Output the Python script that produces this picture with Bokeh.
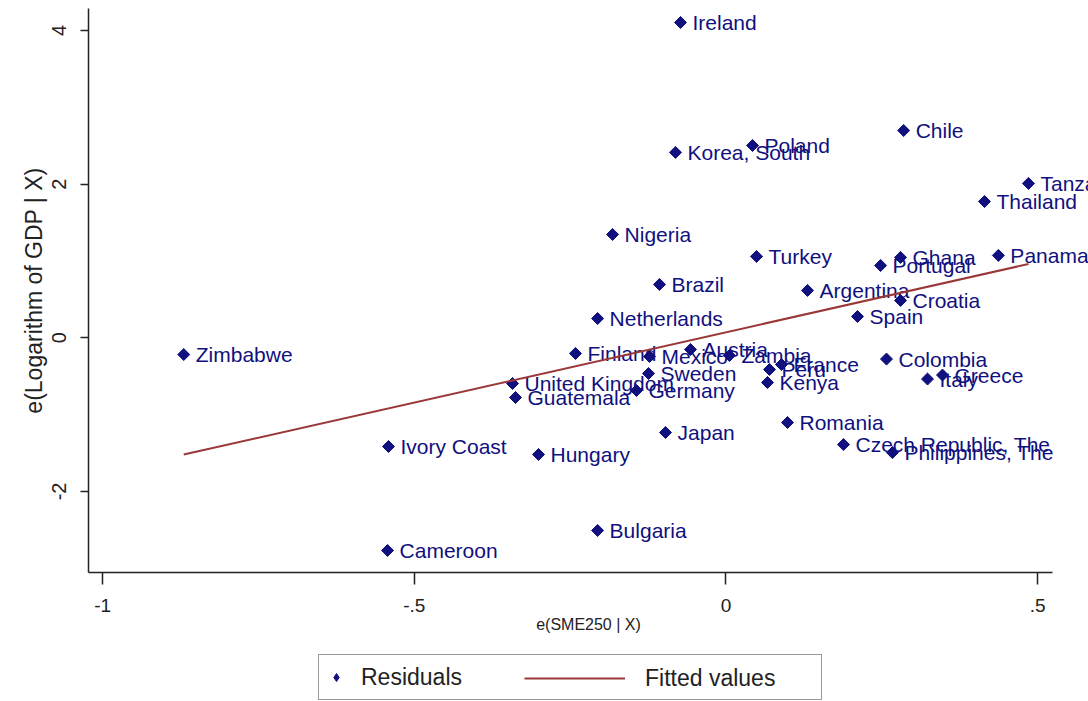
from bokeh.plotting import figure
from bokeh.layouts import column
from bokeh.models import Range1d, Legend, LegendItem, ColumnDataSource, FixedTicker
from bokeh.core.properties import value
from bokeh.embed import file_html
from bokeh.resources import INLINE

# ---- data ----
countries = [
    "Ireland", "Chile", "Poland", "Korea, South", "Tanzania", "Thailand",
    "Nigeria", "Turkey", "Ghana", "Panama", "Portugal", "Brazil",
    "Argentina", "Croatia", "Netherlands", "Spain", "Zimbabwe", "Finland",
    "Mexico", "Austria", "Zambia", "Peru", "France", "Kenya", "Sweden",
    "United Kingdom", "Guatemala", "Germany", "Colombia", "Italy", "Greece",
    "Romania", "Japan", "Ivory Coast", "Hungary", "Czech Republic, The",
    "Philippines, The", "Bulgaria", "Cameroon",
]
sme_resid = [
    -0.073, 0.285, 0.0425, -0.081, 0.4853, 0.4147,
    -0.182, 0.049, 0.280, 0.437, 0.248, -0.1067,
    0.1308, 0.280, -0.206, 0.211, -0.870, -0.2415,
    -0.1227, -0.057, 0.0056, 0.0698, 0.089, 0.0666, -0.1243,
    -0.3425, -0.3377, -0.1436, 0.2575, 0.3233, 0.3474,
    0.0987, -0.097, -0.5415, -0.3008, 0.1885,
    0.267, -0.206, -0.543,
]
gdp_resid = [
    4.104, 2.698, 2.503, 2.413, 2.009, 1.774,
    1.345, 1.059, 1.046, 1.072, 0.941, 0.694,
    0.616, 0.486, 0.251, 0.277, -0.218, -0.204,
    -0.243, -0.152, -0.230, -0.413, -0.348, -0.582, -0.465,
    -0.595, -0.777, -0.686, -0.277, -0.537, -0.485,
    -1.103, -1.233, -1.415, -1.519, -1.390,
    -1.494, -2.508, -2.768,
]
fit_x = [-0.870, 0.4853]
fit_y = [-1.52, 0.96]

x_ticks = [-1, -0.5, 0, 0.5]
x_tick_labels = ["-1", "-.5", "0", ".5"]
y_ticks = [-2, 0, 2, 4]
y_tick_labels = ["-2", "0", "2", "4"]

NAVY = "#10107e"
MAROON = "#9a3838"
AXIS = "#222222"
FONT = "Liberation Sans"

p = figure(width=1088, height=640, output_backend="svg", toolbar_location=None,
           x_range=Range1d(-1.0228, 0.5816), y_range=Range1d(-3.055, 4.286),
           min_border_left=88, min_border_right=0, min_border_top=8,
           min_border_bottom=68)
p.outline_line_color = None
p.grid.visible = False
p.background_fill_color = "white"
p.border_fill_color = "white"

src = ColumnDataSource(dict(x=sme_resid, y=gdp_resid, name=countries))
p.scatter("x", "y", source=src, marker="square", angle=0.785398,
          size=8.5, fill_color=NAVY, line_color=NAVY)
p.text("x", "y", text="name", source=src, x_offset=12,
       text_baseline="middle", text_align="left",
       text_font=value(FONT), text_font_size="21px", text_color=NAVY)
p.line(fit_x, fit_y, line_color=MAROON, line_width=2)

# x axis
xa = p.xaxis[0]
xa.ticker = FixedTicker(ticks=x_ticks)
xa.major_label_overrides = {t: l for t, l in zip(x_ticks, x_tick_labels)}
xa.bounds = (-1.0228, 0.524)
xa.axis_line_color = AXIS
xa.axis_line_width = 1.5
xa.major_tick_line_color = AXIS
xa.major_tick_line_width = 1.5
xa.major_tick_out = 12
xa.major_tick_in = 0
xa.minor_tick_line_color = None
xa.major_label_text_font = FONT
xa.major_label_text_font_size = "19px"
xa.major_label_text_color = AXIS
xa.major_label_standoff = 14
xa.axis_label = "e(SME250 | X)"
xa.axis_label_text_font = FONT
xa.axis_label_text_font_style = "normal"
xa.axis_label_text_font_size = "16px"
xa.axis_label_text_color = AXIS
xa.axis_label_standoff = 1

# y axis
ya = p.yaxis[0]
ya.ticker = FixedTicker(ticks=y_ticks)
ya.major_label_overrides = {t: l for t, l in zip(y_ticks, y_tick_labels)}
ya.axis_line_color = AXIS
ya.axis_line_width = 1.5
ya.major_tick_line_color = AXIS
ya.major_tick_line_width = 1.5
ya.major_tick_out = 8
ya.major_tick_in = 0
ya.minor_tick_line_color = None
ya.major_label_orientation = "vertical"
ya.major_label_text_font = FONT
ya.major_label_text_font_size = "20px"
ya.major_label_text_color = AXIS
ya.major_label_standoff = 14
ya.axis_label = "e(Logarithm of GDP | X)"
ya.axis_label_text_font = FONT
ya.axis_label_text_font_style = "normal"
ya.axis_label_text_font_size = "23px"
ya.axis_label_text_color = AXIS
ya.axis_label_standoff = 3

# ---- legend strip below the plot (same side borders as the plot) ----
# its ranges lie far away from the data, so the series drawn here only feed
# the legend glyphs and stay out of view
lg = figure(width=1088, height=61, output_backend="svg", toolbar_location=None,
            x_range=Range1d(100, 101), y_range=Range1d(100, 101),
            x_axis_location=None, y_axis_location=None,
            min_border_left=88, min_border_right=0, min_border_top=0,
            min_border_bottom=0)
lg.grid.visible = False
lg.outline_line_color = None
lg.border_fill_color = "white"
lg.background_fill_color = "white"

r_res = lg.scatter(sme_resid, gdp_resid, marker="diamond",
                   size=14, fill_color=NAVY, line_color=NAVY)
r_fit = lg.line(fit_x, fit_y, line_color=MAROON, line_width=2)

def style_legend(leg, gw, gh, standoff, pad):
    leg.padding = pad
    leg.margin = 0
    leg.glyph_width = gw
    leg.glyph_height = gh
    leg.label_standoff = standoff
    leg.label_text_font = FONT
    leg.label_text_font_size = "23px"
    leg.label_text_color = AXIS
    leg.label_text_baseline = "middle"

leg_a = Legend(items=[LegendItem(label="Residuals", renderers=[r_res])],
               location=(230, 1), orientation="horizontal")
style_legend(leg_a, 20, 30, 15, 7)
leg_a.label_width = 453
leg_a.border_line_color = "#333333"
leg_a.border_line_width = 1.5
leg_a.background_fill_color = "white"
leg_a.background_fill_alpha = 1.0

leg_b = Legend(items=[LegendItem(label="Fitted values", renderers=[r_fit])],
               location=(436, 8), orientation="horizontal")
style_legend(leg_b, 101, 30, 20, 0)
leg_b.border_line_color = None
leg_b.background_fill_alpha = 0

lg.add_layout(leg_a)
lg.add_layout(leg_b)

layout = column(p, lg, spacing=0)
open("out.html", "w").write(file_html(layout, INLINE))
